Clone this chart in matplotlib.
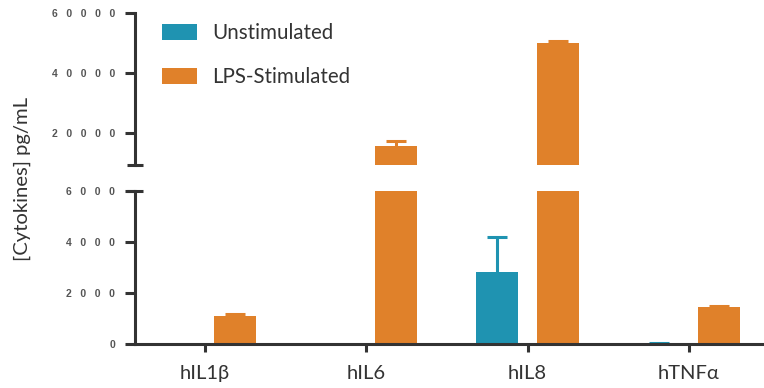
import matplotlib
matplotlib.use("Agg")
import matplotlib.pyplot as plt
from matplotlib.patches import Patch
import numpy as np

# Cytokine concentrations (pg/mL), mean and upper error
cytokines = ["hIL1\u03b2", "hIL6", "hIL8", "hTNF\u03b1"]
unstim = [0, 0, 2810, 30]
unstim_err = [0, 0, 1380, 30]
lps = [1100, 15600, 49800, 1450]
lps_err = [90, 1500, 870, 50]

top_ticks = [20000, 40000, 60000]
bottom_ticks = [0, 2000, 4000, 6000]

BLUE = "#1f93b1"
ORANGE = "#e0812a"
INK = "#333333"
TICK_INK = "#555555"
LABEL_FONT = ["Lato", "DejaVu Sans"]

W, H = 764, 388
fig = plt.figure(figsize=(W / 100, H / 100), dpi=100)


def frac_box(x0, y_top, x1, y_bot):
    return [x0 / W, 1 - y_bot / H, (x1 - x0) / W, (y_bot - y_top) / H]


ax_top = fig.add_axes(frac_box(135, 12.5, 764, 165))
ax_bot = fig.add_axes(frac_box(135, 190.7, 764, 344.3))

x = np.arange(len(cytokines))
off, width = 0.187, 0.26
cap_half = 10 / 161.3
lw = 2.2


def upper_errorbars(ax, xs, vals, errs, color):
    vals = np.asarray(vals, float)
    errs = np.asarray(errs, float)
    keep = errs > 0
    tops = vals + errs
    ax.vlines(xs[keep], vals[keep], tops[keep], color=color, lw=lw, zorder=1)
    ax.hlines(tops[keep], xs[keep] - cap_half, xs[keep] + cap_half,
              color=color, lw=lw, zorder=1)


for ax in (ax_top, ax_bot):
    ax.bar(x - off, unstim, width, color=BLUE, zorder=2)
    ax.bar(x + off, lps, width, color=ORANGE, zorder=2)
    upper_errorbars(ax, x - off, unstim, unstim_err, BLUE)
    upper_errorbars(ax, x + off, lps, lps_err, ORANGE)
    ax.set_xlim(-0.434, 3.466)
    for s in ("top", "right"):
        ax.spines[s].set_visible(False)
    for s in ("left", "bottom"):
        ax.spines[s].set_linewidth(lw)
        ax.spines[s].set_color(INK)
    ax.tick_params(axis="y", length=7.2, width=lw, color=INK, pad=7,
                   labelcolor=TICK_INK)
    ax.tick_params(axis="x", length=6, width=lw, color=INK, pad=9,
                   labelcolor=INK)


def spaced(v):
    # wide letter-spacing for the axis numbers
    return "   ".join(str(int(v)))


tick_font = dict(fontfamily="Liberation Sans", fontweight="bold", fontsize=7.5)

ax_top.set_ylim(9233, 60067)
ax_top.set_yticks(top_ticks)
ax_top.set_yticklabels([spaced(v) for v in top_ticks], **tick_font)
ax_top.spines["bottom"].set_visible(False)
ax_top.set_xticks([])

ax_bot.set_ylim(0, 6000)
ax_bot.set_yticks(bottom_ticks)
ax_bot.set_yticklabels([spaced(v) for v in bottom_ticks], **tick_font)
ax_bot.set_xticks(x)
ax_bot.set_xticklabels(cytokines, fontfamily=LABEL_FONT, fontsize=14.5)

# break caps on the y axis
d = 8 / 629
ax_top.plot([-d, d], [0, 0], transform=ax_top.transAxes, color=INK, lw=lw,
            clip_on=False, solid_capstyle="butt")
ax_bot.plot([-d, d], [1, 1], transform=ax_bot.transAxes, color=INK, lw=lw,
            clip_on=False, solid_capstyle="butt")

fig.text(22 / W, 1 - 178.5 / H, "[Cytokines] pg/mL", rotation=90, ha="center",
         va="center", fontfamily=LABEL_FONT, fontsize=14.6, color=INK)

handles = [Patch(facecolor=BLUE, label="Unstimulated"),
           Patch(facecolor=ORANGE, label="LPS-Stimulated")]
fs = 14.8
fs_px = fs * 100 / 72
leg = fig.legend(handles=handles, loc="upper left",
                 bbox_to_anchor=(162 / W, 1 - 23 / H), bbox_transform=fig.transFigure,
                 frameon=False, borderpad=0, borderaxespad=0,
                 handlelength=35 / fs_px, handleheight=18 / fs_px,
                 handletextpad=15 / fs_px, labelspacing=24 / fs_px,
                 prop={"family": LABEL_FONT, "size": fs})
for t in leg.get_texts():
    t.set_color(INK)

fig.savefig("out.png", dpi=100)
